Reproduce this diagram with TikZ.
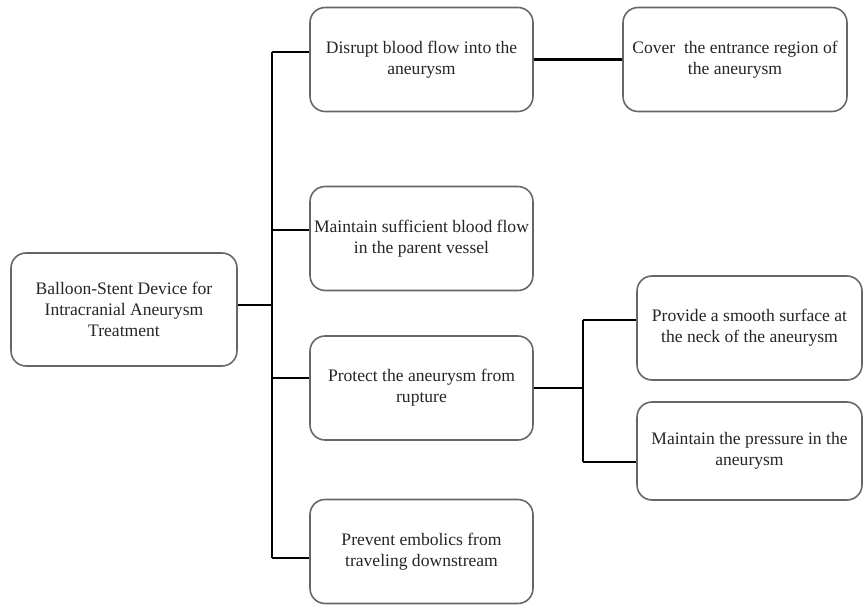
\documentclass[tikz,border=0pt]{standalone}
\usepackage{fontspec}
\setmainfont{Liberation Serif}

\tikzset{
  goalbox/.style={draw=black!60, line width=0.9pt, rounded corners=0.3cm, fill=white,
    align=center, font=\fontsize{10}{12}\selectfont, text=black!85,
    minimum width=4.46cm, minimum height=2.08cm, inner sep=1pt},
  link/.style={black, line width=1.4pt}
}

\begin{document}
\begin{tikzpicture}[x=0.02cm, y=-0.02cm]

\useasboundingbox (0,0) rectangle (863,607);

\node[goalbox, minimum width=4.52cm, minimum height=2.26cm] (root) at (124,309.5) {Balloon-Stent Device for\\Intracranial Aneurysm\\Treatment};

\node[goalbox] (disrupt) at (421.5,59.5) {Disrupt blood flow into the\\aneurysm};
\node[goalbox] (maintain) at (421.5,238.5) {Maintain sufficient blood flow\\in the parent vessel};
\node[goalbox] (protect) at (421.5,388) {Protect the aneurysm from\\rupture};
\node[goalbox] (prevent) at (421.5,551.5) {Prevent embolics from\\traveling downstream};

\node[goalbox, minimum width=4.48cm] (cover) at (735,59.5) {Cover~ the entrance region of\\the aneurysm};
\node[goalbox, minimum width=4.5cm] (smooth) at (749.5,328) {Provide a smooth surface at\\the neck of the aneurysm};
\node[goalbox, minimum width=4.5cm, minimum height=1.96cm] (pressure) at (749.5,451) {Maintain the pressure in the\\aneurysm};

\coordinate (b0) at (272,305);
\coordinate (b1) at (272,52);
\coordinate (b2) at (272,230);
\coordinate (b3) at (272,378);
\coordinate (b4) at (272,558);
\coordinate (p1) at (583,320);
\coordinate (p2) at (583,462);

\draw[link] (b0 -| root.east) -- (b0);
\draw[link] (b1) -- (b4);
\draw[link] (b1) -- (b1 -| disrupt.west);
\draw[link] (b2) -- (b2 -| maintain.west);
\draw[link] (b3) -- (b3 -| protect.west);
\draw[link] (b4) -- (b4 -| prevent.west);

\draw[link] (disrupt.east) -- (cover.west);

\draw[link] (protect.east) -- (protect.east -| p1);
\draw[link] (p1) -- (p2);
\draw[link] (p1) -- (p1 -| smooth.west);
\draw[link] (p2) -- (p2 -| pressure.west);

\end{tikzpicture}
\end{document}
